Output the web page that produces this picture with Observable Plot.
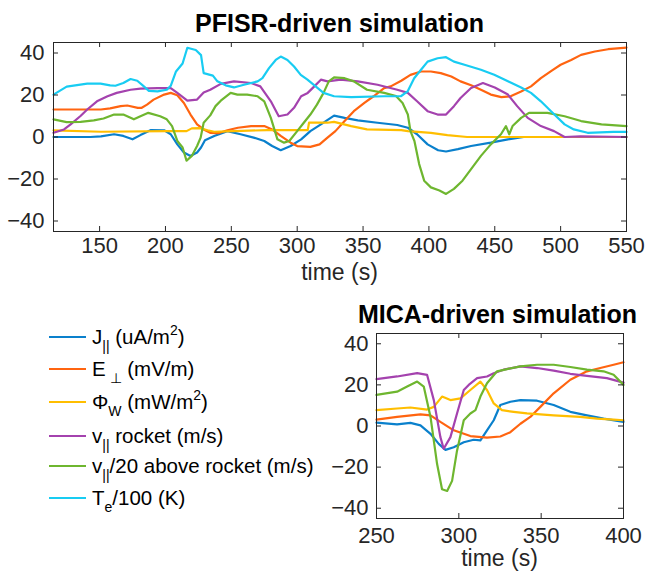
<!DOCTYPE html>
<html><head><meta charset="utf-8">
<script src="https://cdn.jsdelivr.net/npm/d3@7"></script>
<script src="https://cdn.jsdelivr.net/npm/@observablehq/plot@0.6"></script>
<style>
body{margin:0;background:#fff;}
#root{position:relative;width:645px;height:573px;overflow:hidden;font-family:"Liberation Sans",Arial,Helvetica,sans-serif;color:#262626;}
.abs{position:absolute;white-space:nowrap;}
.title{font-weight:bold;font-size:25px;line-height:25px;color:#000;transform:translateX(-50%);}
.xlab{font-size:23px;line-height:23px;transform:translateX(-50%);}
.leg{font-size:20.5px;line-height:20px;color:#000;}
.leg .sw{position:absolute;left:0;width:37px;height:0;border-top:2.5px solid;}
.leg sub{font-size:14px;vertical-align:-7px;line-height:0;}
.leg sup{font-size:14px;vertical-align:9px;line-height:0;}
</style></head>
<body><div id="root"></div>
<script>
// ---------- series colours ----------
const colors = ["#0A80CC", "#FF6410", "#FFBE00", "#A442AE", "#6EB62F", "#18CCF2"];

// ---------- PFISR-driven (top) ----------
const pJ_t = [115,143,151,161,168,175,181,189,199,204,209,214,219,224,227,230,237,247,257,267,275,281,287.5,295,303,310,318,328,336,346,361,376,384,391,399,407,413,422,432,447,460,472,550];
const pJ_v = [0,0,0.3,1.3,0.5,-1.1,0.9,3.3,3.2,1.3,-3.5,-7.4,-9,-7.4,-5,-1.5,0.5,2.8,1.3,-0.3,-1.9,-4.3,-6.3,-4.3,-1.1,2.8,6,10.2,9.1,7.9,6.8,5.7,4.4,1.3,-3.5,-6.3,-6.9,-5.8,-4.3,-2.7,-1.1,0,0];
const pE_t = [115,151,158,166,171,179,182,186,191,199,204,209,214,219,224,229,234,240,247,255,265,275,281,287.5,295,300,310,317,323,329,336,343,351,358,366,371,379,386,394,401.5,409,417,424,432,439.5,447,455,462,470,477.5,485,493,500,508,515.5,526,536,550];
const pE_v = [13.1,13.1,13.6,14.7,15,13.9,13.9,15.4,17.8,20.2,21,19.9,16.2,10.7,6,3.6,2,1.8,3.2,4.4,5.2,5.2,3.6,0.5,-2.7,-4.3,-4.7,-3.5,-0.3,2.8,7.6,12.3,16.2,19.4,23.3,24.1,26.8,29.6,31.2,31.2,30.4,28.8,26.5,24.6,22.5,20.2,19,19.4,21.7,24.1,28,31.5,34.4,36.7,39.1,40.7,41.8,42.6];
const pP_t = [115,151,201,216,220,226,232,237,252,277,308,309,323,328,341,353,379,384,401.5,414,429,550];
const pP_v = [3.2,2.5,2.8,2.8,4.1,4.2,3.2,2.5,2.8,3.3,3.3,6.8,6.8,7.2,5.2,3.6,3.3,2.8,2,0.9,0,0];
const pV_t = [115,123,128,135.5,140.6,148,156,163,173.5,181,194,204,209,216.6,224,229,234,242,252,265,272,280,286,292.6,297.6,303,308,313,318,323,333,346,361,376,384,391,399,406.6,413,419,424,432,441,450,460,467,475,485,495,503,515,550];
const pV_v = [2,3.6,6,10,13.1,17,19.4,21,22.5,23,23.3,23.3,21,17.3,17.8,21.2,22.5,25.3,26.5,25.7,24.1,17,9.9,10.7,13.9,19.4,21,24.1,27.3,26.5,27.3,26.5,24.9,22.5,21,17,12.3,10.7,10.7,14.7,18.6,23.3,25.7,23.6,20.2,14.7,9.1,5.2,2.8,0,0.3,0];
const pA_t = [115,125,135.5,145.6,153,161,168,176,181,187,196,201,205,209,213,216,220,224,226.7,229,234,238,242,249.5,254.6,262,270,275,280,285,290,294,300,305,310,315,320,324,328,336,343,353,366,375,380,384,386,389,392.6,396.4,401.5,408,413,419,425.5,432,439.5,447,454.7,458.5,461,463.5,470,476,490,503,515.5,531,550];
const pA_v = [8.4,7.1,7.2,7.9,8.8,10.7,10.7,8.4,9.9,11.5,9.9,8.4,5.2,-1.9,-5,-11.3,-9,-4.3,-0.3,6.8,10.3,14.7,17.3,21,20.2,20.2,19.4,17,9.1,-1.1,-2.7,-1.9,2.8,6.8,10.7,15.4,21,26.5,28.4,28,26.5,22.5,21,19.5,16.2,10.7,2.8,-1.9,-12.9,-20.8,-24,-25.5,-27.1,-24.7,-20.8,-15.3,-9,-3.5,1.3,5.2,1.3,5.2,9.1,11.5,11.5,9.9,7.6,6,5.2];
const pT_t = [115,125,140.6,150.7,158,162,168,173.5,178.6,183.6,187.4,194,201,204,208,213,216.6,223,227,229,236,239.4,245.7,252,259.6,270,273.6,278.6,283.7,287.5,292.6,297.6,302.7,307.8,314,320,328,341,366,378.7,383.8,388.8,394,399,406.6,413,419,427,439.5,449.6,460,470,477.5,485,492.7,503,510,520.5,540,550];
const pT_v = [20.2,24,25.4,25.4,24.6,24.4,25.7,27.6,26.8,24.1,22,21.7,22.5,24.4,31.2,35,42.5,41.4,39,30.4,29.2,26.5,24.6,23.6,24.9,26.5,28,32.8,36.7,38.3,36.7,33.6,29.6,27.3,24.1,21,19.4,19,19.4,19.4,21.7,28,32,35.9,37.5,38,35.9,34.4,32,29.6,26.5,23.6,21,17,12.3,6,3.6,2,2.4,2.4];

// ---------- MICA-driven (bottom) ----------
const mJ_t = [250,262.5,270.6,276.7,282.8,287.8,291.9,296.9,303,309,313.1,317.1,321.2,325.2,331.3,337.4,347.5,357.6,367.7,377.8,387.9,400];
const mJ_v = [1.6,0.8,1.5,0.3,-3.8,-8.7,-11.6,-10.3,-7.9,-6.7,-7,-2.1,2.8,10.2,11.8,12.6,12.3,10.2,6.9,5.2,3.6,2];
const mE_t = [250,262.5,276.7,282.8,288.8,296.9,307,317.1,325.2,331.3,337.4,343.4,349.5,357.6,367.7,377.8,385.9,394,400];
const mE_v = [3.1,4.4,5.7,5.2,2,-2.1,-4.9,-5.7,-5.1,-3,1.1,4.4,9.3,15.9,22.5,26.6,28.2,29.8,31];
const mP_t = [250,262.5,270.6,280.7,284.8,289.8,294.9,301,307,313.1,317.1,321.2,326.2,333.3,341.4,357.6,373.7,383.9,394,400];
const mP_v = [7.7,8.5,9,8,9.3,14.3,12.6,13.4,17.5,21.6,17.5,11,7.7,6.9,6.1,5.2,4.4,3.6,3.1,2.8];
const mV_t = [250,262.5,274.7,280.7,284.8,288.8,290.8,294.9,298.9,303,306,311.1,317.1,321.2,327.2,337.4,347.5,357.6,367.7,377.8,389.9,400];
const mV_v = [22.8,24.1,25.7,24.9,12.6,-5.4,-11.1,-5.4,6.1,17.5,20,23.3,24.1,25.7,27.4,29,28.2,26.9,25.4,24.4,23.3,21.1];
const mA_t = [250,262.5,268.6,274.7,278.7,282.8,286.8,289.8,292.9,295.9,298.9,303,307,310.1,313.1,317.1,323.2,329.3,337.4,347.5,357.6,367.7,377.8,387.9,394,400];
const mA_v = [15.1,16.7,19.2,21.6,19.2,4.4,-18.5,-30.8,-31.6,-26.7,-12,2.8,6.1,7.7,14.3,20.8,26.6,27.7,29,29.8,29.8,28.7,27.4,26.6,24.9,20];

// ---------- ticks ----------
const topXTicks = [150,200,250,300,350,400,450,500,550];
const botXTicks = [250,300,350,400];
const yTicks = [-40,-20,0,20,40];

function table(ts, vs){ return ts.map((t,i)=>({t, v: vs[i]})); }
const topSeries = [[pJ_t,pJ_v],[pE_t,pE_v],[pP_t,pP_v],[pV_t,pV_v],[pA_t,pA_v],[pT_t,pT_v]];
const botSeries = [[mJ_t,mJ_v],[mE_t,mE_v],[mP_t,mP_v],[mV_t,mV_v],[mA_t,mA_v]];

function chart(cfg){
  const fw = cfg.width - cfg.ml - cfg.mr, fh = cfg.height - cfg.mt - cfg.mb;
  const marks = [];
  cfg.series.forEach((s,i)=>{
    marks.push(Plot.line(table(s[0],s[1]), {x:"t", y:"v", stroke: colors[i], strokeWidth: 2.2, strokeLinejoin:"round"}));
  });
  const tk = {stroke:"#262626", strokeWidth:1};
  marks.push(Plot.tickX(cfg.xTicks, {x:d=>d, insetTop: fh-5, ...tk}));
  marks.push(Plot.tickX(cfg.xTicks, {x:d=>d, insetBottom: fh-5, ...tk}));
  marks.push(Plot.tickY(yTicks, {y:d=>d, insetRight: fw-5, ...tk}));
  marks.push(Plot.tickY(yTicks, {y:d=>d, insetLeft: fw-5, ...tk}));
  marks.push(Plot.axisX(cfg.xTicks, {tickSize:0, tickPadding:cfg.xpad, fontSize:22, label:null}));
  marks.push(Plot.axisY(yTicks, {tickSize:0, tickPadding:cfg.ypad, fontSize:22, label:null}));
  marks.push(Plot.frame({stroke:"#262626", strokeWidth:1}));
  const svg = Plot.plot({
    width: cfg.width, height: cfg.height,
    marginLeft: cfg.ml, marginRight: cfg.mr, marginTop: cfg.mt, marginBottom: cfg.mb,
    x: {domain: cfg.xDomain}, y: {domain: [-45,45]},
    style: "font-family:'Liberation Sans',Arial,Helvetica,sans-serif;font-size:22px;color:#262626;background:transparent;overflow:visible;",
    marks
  });
  svg.style.position = "absolute";
  svg.style.left = "0px";
  svg.style.top = cfg.top + "px";
  return svg;
}

const root = document.getElementById("root");
root.appendChild(chart({top:0, width:645, height:290, ml:53, mr:19, mt:42, mb:59, xDomain:[115,550], xTicks: topXTicks, series: topSeries, xpad:6, ypad:9}));
root.appendChild(chart({top:290, width:645, height:283, ml:376, mr:22, mt:43, mb:55, xDomain:[250,400], xTicks: botXTicks, series: botSeries, xpad:9, ypad:8}));

function addDiv(cls, html, left, top){
  const d = document.createElement("div");
  d.className = "abs " + cls; d.innerHTML = html;
  d.style.left = left + "px"; d.style.top = top + "px";
  root.appendChild(d); return d;
}
addDiv("title", "PFISR-driven simulation", 339.5, 11);
addDiv("xlab", "time (s)", 339.5, 261);
addDiv("title", "MICA-driven simulation", 497.5, 302);
addDiv("xlab", "time (s)", 499.5, 547);

// legend
const legendLabels = [
  "J<sub>||</sub> (uA/m<sup>2</sup>)",
  "E<sub>&nbsp;⊥</sub> (mV/m)",
  "Φ<sub>W</sub> (mW/m<sup>2</sup>)",
  "v<sub>||</sub> rocket (m/s)",
  "v<sub>||</sub>/20 above rocket (m/s)",
  "T<sub>e</sub>/100 (K)"
];
const legendRows = [336.7, 369.3, 402.3, 436, 465.7, 498.3];
legendLabels.forEach((lab,i)=>{
  const row = addDiv("leg", "", 49, legendRows[i] - 12);
  const sw = document.createElement("div");
  sw.className = "sw"; sw.style.borderTopColor = colors[i]; sw.style.top = "11px";
  row.appendChild(sw);
  const tx = document.createElement("span");
  tx.innerHTML = lab; tx.style.position = "absolute"; tx.style.left = "43px"; tx.style.top = "2px";
  row.appendChild(tx);
});
</script></body></html>
